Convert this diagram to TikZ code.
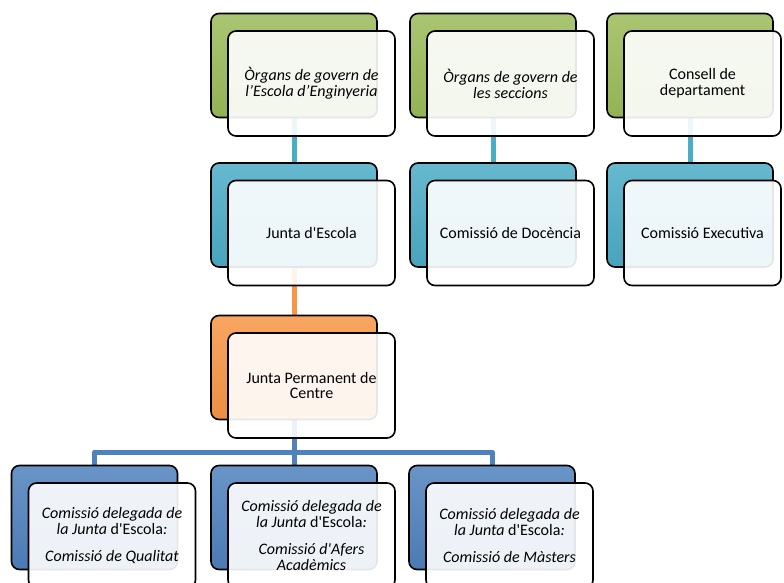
\documentclass[tikz,border=0pt]{standalone}
\usepackage{fontspec}
\setmainfont{Carlito}[Ligatures=TeXOff]
\usepackage{xcolor}
\usepackage{tikz}
\usetikzlibrary{positioning,backgrounds}
\definecolor{govgreen}{HTML}{9BBB59}
\definecolor{juntacyan}{HTML}{4BACC6}
\definecolor{permorange}{HTML}{F79646}
\definecolor{delblue}{HTML}{4F81BD}
\tikzstyle{back} = [rectangle, rounded corners=8pt, minimum width=166pt, minimum height=104pt, draw=black, line width=1.6pt]
\tikzstyle{govern} = [back, top color=govgreen!85!white, bottom color=govgreen!95!black]
\tikzstyle{junta} = [back, top color=juntacyan!85!white, bottom color=juntacyan!95!black]
\tikzstyle{permanent} = [back, top color=permorange!85!white, bottom color=permorange!95!black]
\tikzstyle{delegada} = [back, top color=delblue!85!white, bottom color=delblue!95!black]
\tikzstyle{front} = [rectangle, rounded corners=8pt, minimum width=167pt, minimum height=105pt, draw=black, line width=1.6pt, fill=white, fill opacity=0.9, text opacity=1, align=center, font=\fontsize{16}{15.8}\selectfont]
\tikzstyle{link} = [line width=5pt, line join=round]

\begin{document}
\begin{tikzpicture}[x=1pt, y=-1pt, node distance=17.5pt]
      \useasboundingbox (0,0) rectangle (784,583);
      % top row
      \node (egBack) [govern] at (294,65.5) {};
      \node (eg) [front, right of=egBack, yshift=-18pt] {\textit{Òrgans de govern de}\\\textit{l’Escola d’Enginyeria}};
      \node (secBack) [govern] at (493,65.5) {};
      \node (sec) [front, right of=secBack, yshift=-18pt] {\textit{Òrgans de govern de}\\\textit{les seccions}};
      \node (depBack) [govern] at (690,65.5) {};
      \node (dep) [front, minimum width=157pt, right of=depBack, xshift=-5pt, yshift=-18pt] {Consell de\\departament};
      % second row
      \node (jeBack) [junta] at (294,215) {};
      \node (je) [front, right of=jeBack, yshift=-18pt] {Junta d'Escola};
      \node (docBack) [junta] at (493,215) {};
      \node (doc) [front, right of=docBack, yshift=-18pt] {Comissió de Docència};
      \node (exeBack) [junta] at (690,215) {};
      \node (exe) [front, minimum width=157pt, right of=exeBack, xshift=-5pt, yshift=-18pt] {Comissió Executiva};
      % junta permanent
      \node (jpcBack) [permanent] at (294,367.5) {};
      \node (jpc) [front, right of=jpcBack, yshift=-18pt] {Junta Permanent de\\Centre};
      % comissions delegades
      \node (cqBack) [delegada] at (94.5,517.5) {};
      \node (cq) [front, right of=cqBack, yshift=-18pt] {\textit{Comissió delegada de}\\\textit{la Junta} d'Escola\textit{:}\\[11pt]\textit{Comissió de Qualitat}};
      \node (caBack) [delegada] at (294,517.5) {};
      \node (ca) [front, right of=caBack, yshift=-18pt] {\textit{Comissió delegada de}\\\textit{la Junta} d'Escola\textit{:}\\[11pt]\textit{Comissió d'Afers}\\\textit{Acadèmics}};
      \node (cmBack) [delegada] at (492,517.5) {};
      \node (cm) [front, right of=cmBack, yshift=-18pt] {\textit{Comissió delegada de}\\\textit{la Junta} d'Escola\textit{:}\\[11pt]\textit{Comissió de  Màsters}};
      \coordinate (split) at (294,452);

      \begin{pgfonlayer}{background}
      \draw [link, juntacyan] (egBack) -- (jeBack);
      \draw [link, juntacyan] (secBack) -- (docBack);
      \draw [link, juntacyan] (depBack) -- (exeBack);
      \draw [link, permorange] (jeBack) -- (jpcBack);
      \draw [link, delblue] (jpcBack) -- (split);
      \draw [link, delblue] (split) -| (cqBack);
      \draw [link, delblue] (split) -- (caBack);
      \draw [link, delblue] (split) -| (cmBack);
      \end{pgfonlayer}
    \end{tikzpicture}
\end{document}
